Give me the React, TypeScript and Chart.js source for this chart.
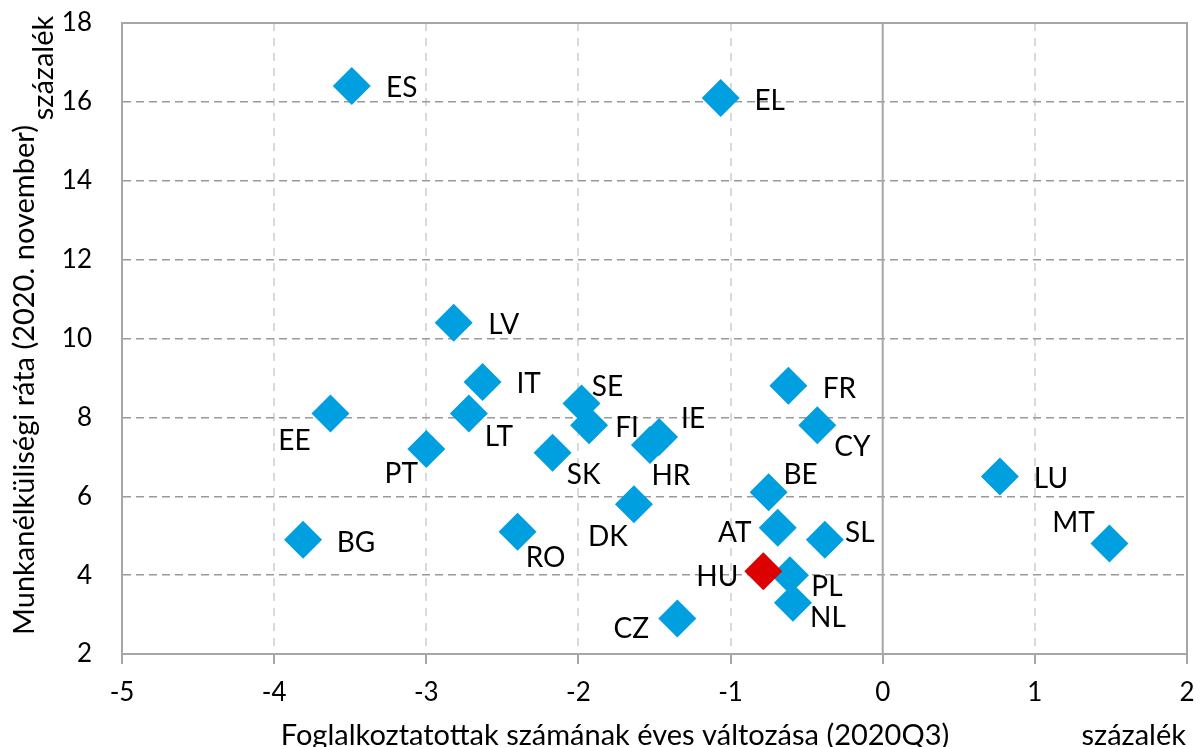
import React, { useEffect, useRef } from "react";
import { Chart, registerables } from "chart.js";

Chart.register(...registerables);

// ---- data ----
const countries = ["ES", "EL", "LV", "IT", "SE", "FI", "IE", "HR", "EE", "LT", "PT", "SK", "DK", "RO", "BG", "CZ", "FR", "CY", "BE", "AT", "SL", "PL", "NL", "LU", "MT", "HU"];
const employmentChange = [-3.49, -1.065, -2.82, -2.63, -1.98, -1.93, -1.47, -1.53, -3.63, -2.72, -3.0, -2.17, -1.635, -2.4, -3.81, -1.35, -0.62, -0.43, -0.75, -0.69, -0.38, -0.61, -0.59, 0.77, 1.49, -0.785];
const unemploymentRate = [16.4, 16.1, 10.4, 8.9, 8.35, 7.8, 7.5, 7.3, 8.1, 8.1, 7.2, 7.1, 5.8, 5.1, 4.9, 2.9, 8.8, 7.8, 6.1, 5.2, 4.9, 4.0, 3.3, 6.5, 4.8, 4.1];
const highlighted = ["HU"];

const xTickValues = [-5, -4, -3, -2, -1, 0, 1, 2];
const yTickValues = [2, 4, 6, 8, 10, 12, 14, 16, 18];

const xTitle = "Foglalkoztatottak számának éves változása (2020Q3)";
const yTitle = "Munkanélküliségi ráta (2020. november)";
const unitLabel = "százalék";

// ---- styling ----
const BLUE = "#009FDF";
const RED = "#DC0000";
const AXIS = "#a6a6a6";
const FONT = "Lato, 'Open Sans', sans-serif";
const RIGHT_GAP = 13;

// label placement relative to marker centre (pixels): [dx, dy]
const labelOffsets: Record<string, [number, number]> = {
  ES: [50, 1], EL: [49, 2], LV: [50, 1], IT: [46, 1], SE: [26, -18], FI: [38, 2],
  IE: [34, -19], HR: [21, 30], EE: [-36, 27], LT: [30, 23], PT: [-25, 24], SK: [31, 21],
  DK: [-26, 32], RO: [28, 25], BG: [53, 2], CZ: [-46, 9], FR: [51, 2], CY: [35, 21],
  BE: [32, -18], AT: [-43, 4], SL: [35, -8], HU: [-46, 5], PL: [37, 11], NL: [35, 14],
  LU: [51, 1], MT: [-36, -22],
};

const overlayPlugin = {
  id: "overlay",
  afterLayout(chart: any) {
    const a = chart.chartArea;
    const R = chart.width - RIGHT_GAP;
    a.right = R;
    a.width = R - a.left;
    const x = chart.scales.x;
    x.right = R;
    x.width = R - x.left;
    x.configure();
  },
  beforeDatasetsDraw(chart: any) {
    const { ctx, chartArea: a, scales } = chart;
    ctx.save();
    ctx.strokeStyle = AXIS;
    ctx.lineWidth = 2;
    ctx.setLineDash([]);
    ctx.beginPath();
    ctx.moveTo(a.left, a.top);
    ctx.lineTo(a.right, a.top);
    ctx.lineTo(a.right, a.bottom + 10);
    ctx.stroke();
    const x0 = scales.x.getPixelForValue(0);
    ctx.beginPath();
    ctx.moveTo(x0, a.top);
    ctx.lineTo(x0, a.bottom);
    ctx.stroke();
    ctx.restore();
  },
  afterDatasetsDraw(chart: any) {
    const { ctx } = chart;
    const meta = chart.getDatasetMeta(0);
    ctx.save();
    ctx.font = `28px ${FONT}`;
    ctx.fillStyle = "#000";
    ctx.textAlign = "center";
    ctx.textBaseline = "alphabetic";
    meta.data.forEach((pt: any, i: number) => {
      const name = countries[i];
      const off = labelOffsets[name] || [40, 0];
      ctx.fillText(name, pt.x + off[0], pt.y + off[1] + 10);
    });
    ctx.restore();
  },
  afterDraw(chart: any) {
    const { ctx } = chart;
    ctx.save();
    ctx.fillStyle = "#000";
    ctx.font = `29px ${FONT}`;
    ctx.textBaseline = "alphabetic";
    ctx.textAlign = "center";
    ctx.fillText(xTitle, 615, 745);
    ctx.textAlign = "right";
    ctx.fillText(unitLabel, 1186, 745);
    ctx.save();
    ctx.translate(34, 380);
    ctx.rotate(-Math.PI / 2);
    ctx.textAlign = "center";
    ctx.fillText(yTitle, 0, 0);
    ctx.restore();
    ctx.save();
    ctx.translate(53, 68);
    ctx.rotate(-Math.PI / 2);
    ctx.textAlign = "center";
    ctx.fillText(unitLabel, 0, 0);
    ctx.restore();
    ctx.restore();
  },
};

function zeroPad(s: any) {
  s.paddingTop = 0;
  s.paddingBottom = 0;
  s.paddingLeft = 0;
  s.paddingRight = 0;
}

export default function App() {
  const ref = useRef<HTMLCanvasElement>(null);
  useEffect(() => {
    const points = employmentChange.map((x, i) => ({ x, y: unemploymentRate[i] }));
    const colors = countries.map((c) => (highlighted.includes(c) ? RED : BLUE));
    const chart = new Chart(ref.current!, {
      type: "scatter",
      data: {
        datasets: [
          {
            data: points,
            pointStyle: "rectRot",
            pointRadius: 19,
            pointHoverRadius: 19,
            pointBorderWidth: 0,
            pointBackgroundColor: colors,
            pointBorderColor: colors,
          },
        ],
      },
      options: {
        responsive: false,
        animation: false,
        events: [],
        layout: { padding: { top: 23, right: RIGHT_GAP, left: 0, bottom: 0 } },
        plugins: { legend: { display: false }, tooltip: { enabled: false }, title: { display: false } },
        scales: {
          x: {
            type: "linear",
            min: -5,
            max: 2,
            afterFit: (s: any) => { s.height = 93; zeroPad(s); },
            afterBuildTicks: (s: any) => { s.ticks = xTickValues.map((v) => ({ value: v })); },
            ticks: { font: { family: FONT, size: 26 }, color: "#000", padding: 13 },
            grid: {
              color: (c: any) => (c.tick && (c.tick.value === 0 || c.tick.value === -5 || c.tick.value === 2) ? "rgba(0,0,0,0)" : "#d9d9d9"),
              lineWidth: 2,
              tickColor: AXIS,
              tickLength: 10,
              tickWidth: 2,
            },
            border: { display: true, color: AXIS, width: 2, dash: [8, 7] },
          },
          y: {
            type: "linear",
            min: 2,
            max: 18,
            afterFit: (s: any) => { s.width = 122; zeroPad(s); },
            afterBuildTicks: (s: any) => { s.ticks = yTickValues.map((v) => ({ value: v })); },
            ticks: { font: { family: FONT, size: 26 }, color: "#000", padding: 30 },
            grid: {
              color: (c: any) => (c.tick && (c.tick.value === 2 || c.tick.value === 18) ? "rgba(0,0,0,0)" : "#9a9a9a"),
              lineWidth: 1.5,
              drawTicks: false,
            },
            border: { display: true, color: AXIS, width: 2, dash: [8, 5] },
          },
        },
      },
      plugins: [overlayPlugin],
    } as any);
    return () => chart.destroy();
  }, []);
  return (
    <div style={{ position: "absolute", left: 0, top: 0, width: 1200, height: 747, background: "#fff" }}>
      <canvas ref={ref} width={1200} height={747} style={{ display: "block" }} />
    </div>
  );
}
